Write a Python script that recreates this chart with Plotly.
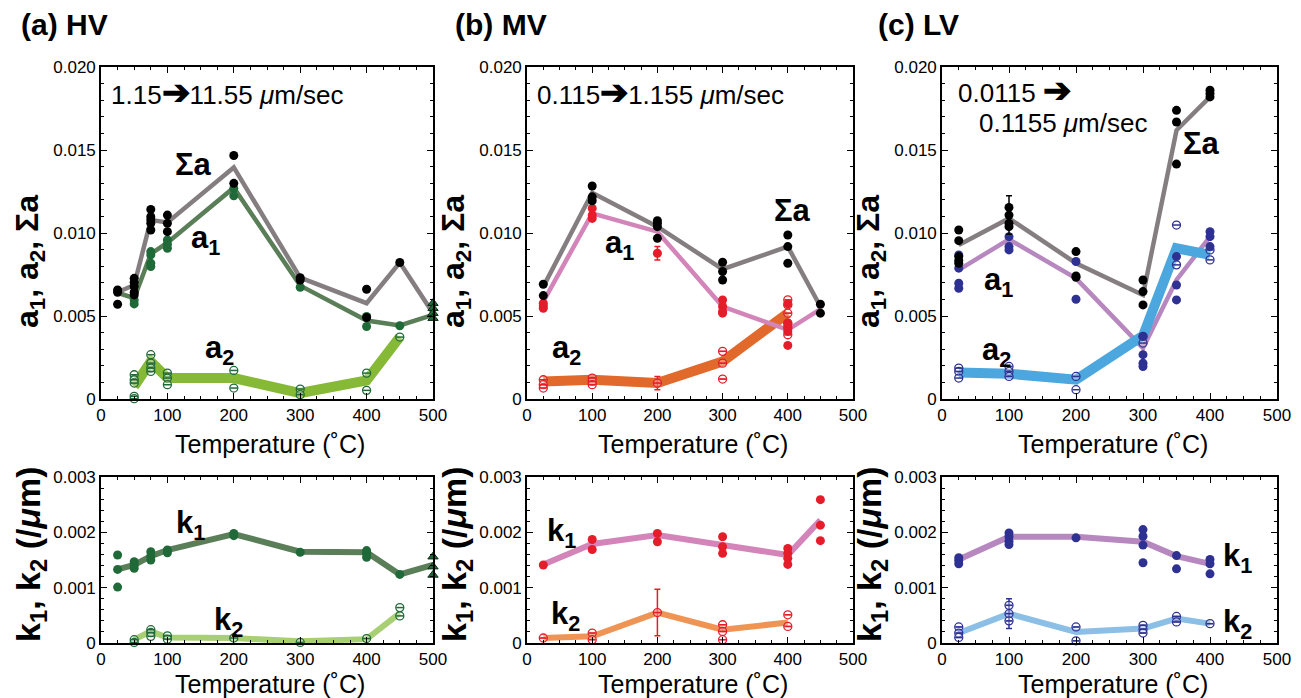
import plotly.graph_objects as go

# ---------------- DATA ----------------
# (a) HV
T_HV = [25, 50, 75, 100, 200, 300, 400, 450, 500]
HV_sum_line = [0.00643, 0.00687, 0.01078, 0.01064, 0.01395, 0.00731, 0.00577, 0.00822, 0.00517]
HV_a1_line = [0.0064, 0.00607, 0.00874, 0.00942, 0.01273, 0.00683, 0.00473, 0.00443, 0.00507]
T_HV_a2 = [50, 75, 100, 200, 300, 400, 450]
HV_a2_line = [0.00076, 0.00226, 0.00126, 0.00126, 0.00036, 0.00112, 0.00373]
HV_sum_T = [25, 25, 25, 50, 50, 50, 50, 50, 75, 75, 75, 75, 75, 100, 100, 100, 200, 200, 300, 300, 400, 400, 450]
HV_sum_pts = [0.00657, 0.00643, 0.00571, 0.00727, 0.00703, 0.00677, 0.00643, 0.00627, 0.01142, 0.01098, 0.01078,
              0.01058, 0.01018, 0.01108, 0.01058, 0.01008, 0.01467, 0.01299, 0.00731, 0.00717, 0.00661, 0.00491, 0.00822]
HV_a1_T = [50, 50, 75, 75, 75, 75, 100, 100, 100, 200, 200, 300, 400, 400, 450]
HV_a1_pts = [0.00597, 0.00573, 0.00888, 0.00868, 0.00818, 0.00798, 0.00958, 0.00932, 0.00908, 0.01269, 0.01224,
             0.00673, 0.00497, 0.00437, 0.00441]
HV_a1_tri_T = [500, 500, 500, 500]
HV_a1_tri = [0.00577, 0.00547, 0.00517, 0.00487]
HV_a2_T = [50, 50, 50, 50, 50, 75, 75, 75, 75, 100, 100, 100, 200, 200, 300, 300, 400, 400, 450]
HV_a2_pts = [0.00146, 0.00116, 0.00096, 0.00016, 0.00002, 0.00267, 0.00216, 0.00186, 0.00166, 0.00156, 0.00126,
             0.00086, 0.00172, 0.00066, 0.0006, 0.00026, 0.00156, 0.00052, 0.00373]
HV_k1_line = [0.00133, 0.00141, 0.00157, 0.00168, 0.00197, 0.00165, 0.00164, 0.00124, 0.00141]
HV_k2_line = [0.00006, 0.00021, 0.0001, 0.00009, 0.00003, 0.00007, 0.00054]
HV_k1_T = [25, 25, 25, 50, 50, 50, 75, 75, 75, 100, 100, 200, 200, 300, 400, 400, 400, 450]
HV_k1_pts = [0.00159, 0.00133, 0.00101, 0.00147, 0.00141, 0.00135, 0.00165, 0.00157, 0.0015, 0.00168, 0.00163,
             0.00198, 0.00194, 0.00164, 0.00167, 0.00162, 0.00155, 0.00124]
HV_k1_tri_T = [500, 500, 500]
HV_k1_tri = [0.00156, 0.00138, 0.00123]
HV_k2_T = [50, 50, 75, 75, 75, 100, 100, 200, 300, 400, 450, 450]
HV_k2_pts = [0.00006, 0.00001, 0.00024, 0.00019, 0.00012, 0.00013, 0.00007, 0.00009, 0.00001, 0.00008, 0.00064, 0.00049]

# (b) MV
T_MV = [25, 100, 200, 300, 400, 450]
MV_sum_line = [0.00677, 0.01242, 0.01038, 0.00782, 0.00918, 0.00557]
MV_a1_line = [0.00587, 0.01118, 0.01008, 0.00557, 0.00417, 0.00541]
T_MV_a2 = [25, 100, 200, 300, 400]
MV_a2_line = [0.00106, 0.00116, 0.00096, 0.00226, 0.00517]
MV_sum_T = [25, 25, 100, 100, 100, 200, 200, 200, 200, 300, 300, 300, 400, 400, 400, 450, 450]
MV_sum_pts = [0.00691, 0.00623, 0.01283, 0.01218, 0.01194, 0.01074, 0.01058, 0.01038, 0.00968, 0.00824, 0.00768,
              0.00717, 0.00988, 0.00918, 0.00818, 0.00571, 0.00517]
MV_a1_T = [25, 25, 25, 100, 100, 100, 200, 300, 300, 300, 300, 400, 400, 400, 400, 400]
MV_a1_pts = [0.00577, 0.00561, 0.00547, 0.01148, 0.01108, 0.01088, 0.00878, 0.00597, 0.00557, 0.00527, 0.00517,
             0.00573, 0.00457, 0.00437, 0.00407, 0.00323]
MV_a1_err = [0, 0, 0, 0, 0, 0, 0.0004, 0, 0, 0, 0, 0, 0, 0, 0, 0]
MV_a2_T = [25, 25, 25, 100, 100, 100, 200, 300, 300, 300, 400, 400, 400, 400, 400, 400]
MV_a2_pts = [0.00116, 0.00086, 0.00066, 0.00126, 0.00106, 0.00086, 0.00096, 0.00287, 0.00216, 0.0012, 0.00597,
             0.00567, 0.00517, 0.00457, 0.00427, 0.00387]
MV_a2_err = [0, 0, 0, 0, 0, 0, 0.0004, 0, 0, 0, 0, 0, 0, 0, 0, 0]
MV_k1_line = [0.00142, 0.00179, 0.00195, 0.00178, 0.00159, 0.00222]
MV_k2_line = [0.00009, 0.00012, 0.00055, 0.00024, 0.00037]
MV_k1_T = [25, 100, 100, 200, 200, 300, 300, 300, 400, 400, 400, 400, 450, 450, 450]
MV_k1_pts = [0.00141, 0.00187, 0.00169, 0.00198, 0.00183, 0.00192, 0.00174, 0.00162, 0.00171, 0.00162, 0.00153,
             0.00142, 0.00259, 0.00213, 0.00185]
MV_k2_T = [25, 100, 100, 200, 300, 300, 300, 400, 400]
MV_k2_pts = [0.00009, 0.00018, 0.00006, 0.00055, 0.00033, 0.00021, 0.00006, 0.00051, 0.0003]
MV_k2_err = [0, 0, 0, 0.00042, 0, 0, 0, 0, 0]

# (c) LV
T_LV = [25, 100, 200, 300, 350, 400]
LV_sum_line = [0.00928, 0.01088, 0.00818, 0.00627, 0.01619, 0.0182]
LV_a1_line = [0.00778, 0.00962, 0.00727, 0.00307, 0.00717, 0.00978]
LV_a2_line = [0.0016, 0.00152, 0.00116, 0.00381, 0.00908, 0.00868]
LV_sum_T = [25, 25, 25, 25, 25, 100, 100, 100, 100, 200, 200, 200, 300, 300, 300, 350, 350, 350, 400, 400, 400]
LV_sum_pts = [0.01018, 0.00954, 0.00858, 0.00834, 0.00818, 0.01154, 0.01108, 0.01058, 0.01038, 0.00888, 0.00741,
              0.00733, 0.00717, 0.00647, 0.00567, 0.01739, 0.01669, 0.01415, 0.0186, 0.0184, 0.0182]
LV_sum_err = [0, 0, 0, 0, 0, 0, 0.00116, 0, 0, 0, 0, 0, 0, 0, 0, 0, 0, 0, 0, 0, 0]
LV_a1_T = [25, 25, 25, 25, 100, 100, 100, 200, 200, 300, 300, 300, 300, 350, 350, 350, 400, 400, 400]
LV_a1_pts = [0.00868, 0.00788, 0.00697, 0.00667, 0.00978, 0.00918, 0.00898, 0.00828, 0.00601, 0.00377, 0.00267,
             0.00216, 0.00196, 0.00858, 0.00687, 0.00597, 0.01008, 0.00978, 0.00918]
LV_a2_T = [25, 25, 25, 100, 100, 100, 200, 200, 300, 300, 350, 350, 400, 400]
LV_a2_pts = [0.00186, 0.00166, 0.00126, 0.00196, 0.00166, 0.00136, 0.00136, 0.00056, 0.00377, 0.00337, 0.01048,
             0.00808, 0.00898, 0.00838]
LV_k1_line = [0.00151, 0.00192, 0.00192, 0.00183, 0.00157, 0.00143]
LV_k2_line = [0.00018, 0.00053, 0.0002, 0.00026, 0.00044, 0.00035]
LV_k1_T = [25, 25, 25, 100, 100, 100, 100, 200, 300, 300, 300, 300, 350, 350, 400, 400, 400]
LV_k1_pts = [0.00154, 0.00149, 0.00143, 0.00199, 0.00192, 0.00184, 0.00178, 0.0019, 0.00205, 0.00193, 0.00177,
             0.00145, 0.00158, 0.00134, 0.00151, 0.00143, 0.00125]
LV_k2_T = [25, 25, 25, 100, 100, 100, 200, 200, 300, 300, 300, 350, 350, 400]
LV_k2_pts = [0.00029, 0.00018, 0.0001, 0.00068, 0.00053, 0.0004, 0.00029, 0.00004, 0.00032, 0.00025, 0.00018,
             0.00048, 0.00038, 0.00035]
LV_k2_err = [0, 0, 0, 0, 0.00027, 0, 0, 0, 0, 0, 0, 0, 0, 0]

x_ticks = [0, 100, 200, 300, 400, 500]
a_ticks = [0, 0.005, 0.010, 0.015, 0.020]
a_ticktext = ["0", "0.005", "0.010", "0.015", "0.020"]
k_ticks = [0, 0.001, 0.002, 0.003]
k_ticktext = ["0", "0.001", "0.002", "0.003"]

# ---------------- STYLE ----------------
OFF = 8                     # page body margin
W, H = 1301 - OFF, 698 - OFF
FONT = "Liberation Sans, Arial, Helvetica, sans-serif"
GRAY = "#857e80"
C_HV = dict(a1="#5a7e58", dot="#1f6a38", a2="#86b935", k2="#a8cf74")
C_MV = dict(a1="#d385b9", dot="#e51d2a", a2="#e0692b", k2="#ee9555")
C_LV = dict(a1="#b787c0", dot="#2e3192", a2="#4ba7dd", k2="#8bbfe6")

def px(x):
    return (x - OFF) / W

def py(y):
    return 1 - (y - OFF) / H

xdom = [[101, 433], [527, 853], [942, 1277]]
ydom_top = [67, 399]
ydom_bot = [477, 643]

fig = go.Figure()

def line(x, y, color, width, ax):
    fig.add_trace(go.Scatter(x=x, y=y, mode="lines", line=dict(color=color, width=width),
                             xaxis="x" + ax, yaxis="y" + ax, showlegend=False, hoverinfo="skip"))

def pts(x, y, color, ax, open_=False, symbol="circle", err=None, size=9):
    m = dict(size=size, color=color, symbol=symbol)
    if open_:
        m = dict(size=size - 1, color="rgba(255,255,255,0.3)", symbol="circle", line=dict(color=color, width=1.3))
    if symbol.startswith("triangle"):
        m = dict(size=size, color=color, symbol=symbol, line=dict(color="#0b2a14", width=1))
    kw = {}
    if err is not None:
        kw["error_y"] = dict(type="data", array=err, color=color, thickness=1.5, width=3)
    fig.add_trace(go.Scatter(x=x, y=y, mode="markers", marker=m, xaxis="x" + ax, yaxis="y" + ax,
                             showlegend=False, cliponaxis=False, **kw))
    if open_:
        # small horizontal dash inside the open circles (error-bar caps)
        fig.add_trace(go.Scatter(x=x, y=y, mode="markers", xaxis="x" + ax, yaxis="y" + ax,
                                 marker=dict(symbol="line-ew", size=5, line=dict(color=color, width=1.5)),
                                 showlegend=False, cliponaxis=False, hoverinfo="skip"))

# (a) HV top: axis "1"
line(T_HV_a2, HV_a2_line, C_HV["a2"], 10, "")
line(T_HV, HV_a1_line, C_HV["a1"], 4.5, "")
line(T_HV, HV_sum_line, GRAY, 4.5, "")
pts(HV_a2_T, HV_a2_pts, C_HV["dot"], "", open_=True)
pts(HV_a1_T, HV_a1_pts, C_HV["dot"], "")
pts(HV_a1_tri_T, HV_a1_tri, C_HV["dot"], "", symbol="triangle-up")
pts(HV_sum_T, HV_sum_pts, "black", "")
# (b) MV top: axis 2
line(T_MV_a2, MV_a2_line, C_MV["a2"], 10, "2")
line(T_MV, MV_a1_line, C_MV["a1"], 4.5, "2")
line(T_MV, MV_sum_line, GRAY, 4.5, "2")
pts(MV_a2_T, MV_a2_pts, C_MV["dot"], "2", open_=True, err=MV_a2_err)
pts(MV_a1_T, MV_a1_pts, C_MV["dot"], "2", err=MV_a1_err)
pts(MV_sum_T, MV_sum_pts, "black", "2")
# (c) LV top: axis 3
line(T_LV, LV_a1_line, C_LV["a1"], 4.5, "3")
line(T_LV, LV_a2_line, C_LV["a2"], 10, "3")
line(T_LV, LV_sum_line, GRAY, 4.5, "3")
pts(LV_a2_T, LV_a2_pts, C_LV["dot"], "3", open_=True)
pts(LV_a1_T, LV_a1_pts, C_LV["dot"], "3")
pts(LV_sum_T, LV_sum_pts, "black", "3", err=LV_sum_err)
# (a) bottom: axis 4
line(T_HV_a2, HV_k2_line, C_HV["k2"], 6, "4")
line(T_HV, HV_k1_line, C_HV["a1"], 6, "4")
pts(HV_k2_T, HV_k2_pts, C_HV["dot"], "4", open_=True)
pts(HV_k1_T, HV_k1_pts, C_HV["dot"], "4")
pts(HV_k1_tri_T, HV_k1_tri, C_HV["dot"], "4", symbol="triangle-up")
# (b) bottom: axis 5
line(T_MV_a2, MV_k2_line, C_MV["k2"], 6, "5")
line(T_MV, MV_k1_line, C_MV["a1"], 6, "5")
pts(MV_k2_T, MV_k2_pts, C_MV["dot"], "5", open_=True, err=MV_k2_err)
pts(MV_k1_T, MV_k1_pts, C_MV["dot"], "5")
# (c) bottom: axis 6
line(T_LV, LV_k2_line, C_LV["k2"], 6, "6")
line(T_LV, LV_k1_line, C_LV["a1"], 6, "6")
pts(LV_k2_T, LV_k2_pts, C_LV["dot"], "6", open_=True, err=LV_k2_err)
pts(LV_k1_T, LV_k1_pts, C_LV["dot"], "6")

axis_common = dict(showline=True, linecolor="black", linewidth=1.6, mirror="allticks", ticks="inside",
                   ticklen=6, tickwidth=1.4, tickcolor="black", showgrid=False, zeroline=False,
                   automargin=False, tickfont=dict(family=FONT, size=17, color="black"))

layout = dict(width=W, height=H, margin=dict(l=0, r=0, t=0, b=0, autoexpand=False), paper_bgcolor="white",
              plot_bgcolor="white", showlegend=False, font=dict(family=FONT, color="black"))

names = ["", "2", "3", "4", "5", "6"]
for i, n in enumerate(names):
    col = i % 3
    top = i < 3
    xd = [px(xdom[col][0]), px(xdom[col][1])]
    yd = ydom_top if top else ydom_bot
    ydd = [py(yd[1]), py(yd[0])]
    xa = dict(axis_common, domain=xd, range=[0, 500], tickvals=x_ticks, anchor="y" + n,
              minor=dict(dtick=25, ticks="inside", ticklen=3.5, tickcolor="black", tickwidth=1.2))
    if top:
        ya = dict(axis_common, domain=ydd, range=[0, 0.020], tickvals=a_ticks, ticktext=a_ticktext,
                  anchor="x" + n, minor=dict(dtick=0.001, ticks="inside", ticklen=3.5, tickcolor="black", tickwidth=1.2))
    else:
        ya = dict(axis_common, domain=ydd, range=[0, 0.003], tickvals=k_ticks, ticktext=k_ticktext,
                  anchor="x" + n, minor=dict(dtick=0.0002, ticks="inside", ticklen=3.5, tickcolor="black", tickwidth=1.2))
    layout["xaxis" + n] = xa
    layout["yaxis" + n] = ya

fig.update_layout(**layout)

ann = []

def A(text, x, y, size, bold=False, xanchor="center", angle=0):
    t = "<b>" + text + "</b>" if bold else text
    ann.append(dict(text=t, x=px(x), y=py(y), xref="paper", yref="paper", showarrow=False,
                    xanchor=xanchor, yanchor="middle", textangle=angle,
                    font=dict(family=FONT, size=size, color="black")))

ARROW = "<span style='font-size:34px'><b>➔</b></span>"
# panel labels
A("(a) HV", 19, 24, 30, True, "left")
A("(b) MV", 453, 24, 30, True, "left")
A("(c) LV", 876, 24, 30, True, "left")
# speeds
A("1.15" + ARROW + "11.55 <i>μ</i>m/sec", 109, 92, 26, False, "left")
A("0.115" + ARROW + "1.155 <i>μ</i>m/sec", 535, 92, 26, False, "left")
A("0.0115 " + ARROW, 956, 90, 26, False, "left")
A("0.1155 <i>μ</i>m/sec", 977, 123, 26, False, "left")
# x titles
for col in range(3):
    cx = (xdom[col][0] + xdom[col][1]) / 2 + 3
    A("Temperature (˚C)", cx, 444, 25)
    A("Temperature (˚C)", cx, 684, 25)
# y titles
for xx in [30, 456, 871]:
    A("a<sub>1</sub>, a<sub>2</sub>, Σa", xx, 262, 32, True, "center", -90)
    A("k<sub>1</sub>, k<sub>2</sub> (/<i>μ</i>m)", xx, 554, 34, True, "center", -90)
# series labels
A("Σa", 193, 165, 31, True)
A("a<sub>1</sub>", 205, 240, 31, True)
A("a<sub>2</sub>", 219, 350, 31, True)
A("Σa", 792, 210, 31, True)
A("a<sub>1</sub>", 619, 245, 31, True)
A("a<sub>2</sub>", 566, 350, 31, True)
A("Σa", 1201, 143, 31, True)
A("a<sub>1</sub>", 999, 282, 31, True)
A("a<sub>2</sub>", 996, 352, 31, True)
A("k<sub>1</sub>", 190, 525, 31, True)
A("k<sub>2</sub>", 228, 622, 31, True)
A("k<sub>1</sub>", 561, 533, 31, True)
A("k<sub>2</sub>", 565, 616, 31, True)
A("k<sub>1</sub>", 1237, 558, 31, True)
A("k<sub>2</sub>", 1237, 624, 31, True)

fig.update_layout(annotations=ann)
fig.write_html("out.html")
